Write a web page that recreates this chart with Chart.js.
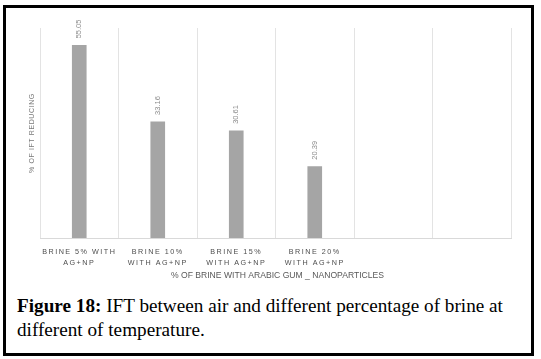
<!DOCTYPE html>
<html lang="en">
<head>
    <meta charset="UTF-8">
    <title>Figure 18 - IFT reducing</title>
    <style>
        body { margin: 0; background: #fff; }
        .frame {
            position: absolute;
            left: 3px; top: 5px;
            width: 525px; height: 345px;
            border: 3px solid #000;
        }
        #chart { position: absolute; left: 6px; top: 8px; }
        .caption {
            position: absolute;
            left: 17px; top: 294px;
            font-family: 'Liberation Serif', 'Times New Roman', serif;
            font-size: 19.2px;
            line-height: 24px;
            color: #000;
            white-space: nowrap;
        }
    </style>
</head>
<body>

<div class="frame"></div>
<canvas id="chart" width="525" height="280"></canvas>
<div class="caption"><b>Figure 18:</b> IFT between air and different percentage of brine at<br>different of temperature.</div>

<script src="https://cdn.jsdelivr.net/npm/chart.js"></script>
<script>
    // data
    const categories = [
        ['BRINE 5% WITH', 'AG+NP'],
        ['BRINE 10%', 'WITH AG+NP'],
        ['BRINE 15%', 'WITH AG+NP'],
        ['BRINE 20%', 'WITH AG+NP'],
        '',
        ''
    ];
    const iftReducing = [55.05, 33.16, 30.61, 20.39, null, null];
    const yMin = 0;
    const yMax = 60;
    const yTitle = '% OF IFT REDUCING';
    const xTitle = '% OF BRINE WITH ARABIC GUM _ NANOPARTICLES';

    const FONT = "'Liberation Sans', Arial, sans-serif";

    // tick labels are letter spaced, the rest is drawn here afterwards
    const textPlugin = {
        id: 'textPlugin',
        beforeDraw(chart) {
            chart.ctx.letterSpacing = '1.5px';
        },
        afterDraw(chart) {
            const ctx = chart.ctx;
            const area = chart.chartArea;
            ctx.save();
            ctx.letterSpacing = '0px';

            // value labels, rotated, above each bar
            ctx.fillStyle = '#8c8c8c';
            ctx.font = '7.5px ' + FONT;
            ctx.textAlign = 'left';
            ctx.textBaseline = 'middle';
            chart.getDatasetMeta(0).data.forEach((bar, i) => {
                if (iftReducing[i] == null) return;
                ctx.save();
                ctx.translate(bar.x, bar.y - 7);
                ctx.rotate(-Math.PI / 2);
                ctx.fillText(iftReducing[i].toFixed(2), 0, 0);
                ctx.restore();
            });

            // x axis title
            ctx.fillStyle = '#595959';
            ctx.font = '8.6px ' + FONT;
            ctx.textAlign = 'center';
            ctx.fillText(xTitle, (area.left + area.right) / 2 + 2, area.bottom + 38);

            // y axis title
            ctx.letterSpacing = '0.6px';
            ctx.font = '7px ' + FONT;
            ctx.fillStyle = '#7a7a7a';
            ctx.translate(area.left - 8, (area.top + area.bottom) / 2);
            ctx.rotate(-Math.PI / 2);
            ctx.fillText(yTitle, 0, 0);
            ctx.restore();
            ctx.letterSpacing = '0px';
        }
    };

    new Chart(document.getElementById('chart'), {
        type: 'bar',
        data: {
            labels: categories,
            datasets: [{
                data: iftReducing,
                backgroundColor: '#a5a5a5',
                barThickness: 14
            }]
        },
        options: {
            responsive: false,
            animation: false,
            devicePixelRatio: 1,
            layout: { padding: { top: 20, right: 20, left: 0, bottom: 0 } },
            plugins: {
                legend: { display: false },
                tooltip: { enabled: false }
            },
            scales: {
                x: {
                    grid: { color: '#e3e3e3', drawTicks: false },
                    border: { color: '#d9d9d9' },
                    ticks: {
                        color: '#4d4d4d',
                        font: { family: FONT, size: 7.2, lineHeight: 1.6 },
                        padding: 8,
                        maxRotation: 0,
                        autoSkip: false
                    },
                    afterFit(scale) { scale.height = 50; }
                },
                y: {
                    min: yMin,
                    max: yMax,
                    grid: { display: false },
                    border: { display: false },
                    ticks: { display: false },
                    afterFit(scale) { scale.width = 34; }
                }
            }
        },
        plugins: [textPlugin]
    });
</script>

</body>
</html>
